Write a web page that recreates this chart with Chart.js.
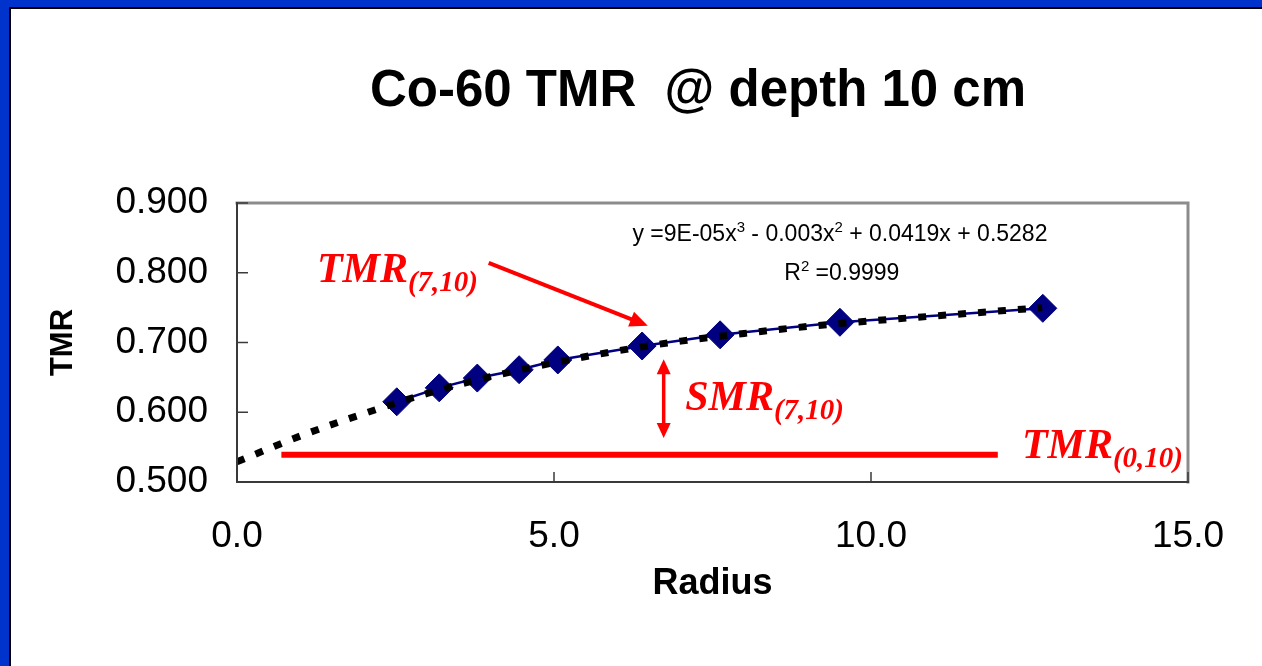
<!DOCTYPE html>
<html>
<head>
<meta charset="utf-8">
<title>Co-60 TMR @ depth 10 cm</title>
<script src="https://cdn.jsdelivr.net/npm/chart.js@4.4.0/dist/chart.umd.min.js"></script>
<style>
    html, body { margin: 0; padding: 0; background: #fff; }
    #wrap { position: relative; width: 1262px; height: 666px; overflow: hidden; background: #fff; }
    #chart { position: absolute; left: 0; top: 0; }
    .bar { position: absolute; }
</style>
</head>
<body>
<div id="wrap">
    <canvas id="chart" width="1262" height="666"></canvas>
    <!-- slide frame -->
    <div class="bar" style="left:0;top:0;width:1262px;height:7px;background:#0033CC"></div>
    <div class="bar" style="left:0;top:0;width:9px;height:666px;background:#0033CC"></div>
    <div class="bar" style="left:9px;top:7px;width:1253px;height:2px;background:#000"></div>
    <div class="bar" style="left:9px;top:7px;width:2px;height:659px;background:#000"></div>
</div>
<script>
// measured points
const radius = [2.52, 3.19, 3.79, 4.45, 5.06, 6.39, 7.62, 9.51, 12.71];
const tmr = [0.615, 0.635, 0.649, 0.661, 0.675, 0.695, 0.711, 0.729, 0.749];

// polynomial trendline
const fitRadius = [0, 1, 2, 3, 4, 5, 6, 7, 8, 9, 10, 11, 12, 12.7];
const fitTmr = [0.529, 0.566, 0.598, 0.627, 0.651, 0.671, 0.688, 0.702, 0.713, 0.723, 0.731, 0.738, 0.745, 0.750];

// TMR(0,10) reference level
const zeroRadius = [0.7, 12.0];
const zeroTmr = [0.539, 0.539];

const xTicks = [0, 5, 10, 15];
const yTicks = [0.5, 0.6, 0.7, 0.8, 0.9];

const SANS = '"Liberation Sans", Arial, sans-serif';
const SERIF = '"Liberation Serif", "Times New Roman", serif';
const RED = '#FF0000';

// annotation anchors, in data units
const notes = {
    tmr7: { x: 1.26, y: 0.787, main: 'TMR', sub: '(7,10)' },
    smr7: { x: 7.07, y: 0.603, main: 'SMR', sub: '(7,10)' },
    tmr0: { x: 12.38, y: 0.534, main: 'TMR', sub: '(0,10)' }
};
const pointerArrow = { x1: 3.97, y1: 0.814, x2: 6.48, y2: 0.724 };
const smrArrow = { x: 6.73, y1: 0.676, y2: 0.563 };
const equation = { x: 9.51, y: 0.857 };
const rSquared = { x: 9.54, y: 0.801 };

function toPoints(xs, ys) {
    return xs.map((x, i) => ({ x: x, y: ys[i] }));
}

function arrowHead(ctx, x1, y1, x2, y2, len, half) {
    const a = Math.atan2(y2 - y1, x2 - x1);
    ctx.beginPath();
    ctx.moveTo(x2, y2);
    ctx.lineTo(x2 - len * Math.cos(a) + half * Math.sin(a), y2 - len * Math.sin(a) - half * Math.cos(a));
    ctx.lineTo(x2 - len * Math.cos(a) - half * Math.sin(a), y2 - len * Math.sin(a) + half * Math.cos(a));
    ctx.closePath();
    ctx.fill();
}

function drawRuns(ctx, runs, cx, y) {
    // runs: [text, size, raise]
    let total = 0;
    runs.forEach(r => {
        ctx.font = r[1] + 'px ' + SANS;
        total += ctx.measureText(r[0]).width;
    });
    let x = cx - total / 2;
    runs.forEach(r => {
        ctx.font = r[1] + 'px ' + SANS;
        ctx.fillText(r[0], x, y - r[2]);
        x += ctx.measureText(r[0]).width;
    });
}

function drawLabel(ctx, x, y, main, sub) {
    ctx.font = 'italic bold 42px ' + SERIF;
    ctx.fillText(main, x, y);
    const w = ctx.measureText(main).width;
    ctx.font = 'italic bold 29px ' + SERIF;
    ctx.fillText(sub, x + w, y + 9);
}

const overlay = {
    id: 'overlay',
    afterDraw(chart) {
        const ctx = chart.ctx;
        const xs = chart.scales.x, ys = chart.scales.y;
        const area = chart.chartArea;
        const px = v => xs.getPixelForValue(v);
        const py = v => ys.getPixelForValue(v);

        ctx.save();

        // plot frame
        ctx.lineCap = 'square';
        ctx.strokeStyle = '#8c8c8c';
        ctx.lineWidth = 3;
        ctx.beginPath();
        ctx.moveTo(area.left, area.top);
        ctx.lineTo(area.right, area.top);
        ctx.lineTo(area.right, area.bottom);
        ctx.stroke();
        ctx.strokeStyle = '#3a3a3a';
        ctx.lineWidth = 2;
        ctx.beginPath();
        ctx.moveTo(area.left, area.top);
        ctx.lineTo(area.left, area.bottom);
        ctx.lineTo(area.right, area.bottom);
        ctx.stroke();

        // inward tick marks
        ctx.lineWidth = 1.5;
        ctx.lineCap = 'butt';
        yTicks.forEach(v => {
            ctx.beginPath();
            ctx.moveTo(area.left, py(v));
            ctx.lineTo(area.left + 11, py(v));
            ctx.stroke();
        });
        xTicks.forEach(v => {
            ctx.beginPath();
            ctx.moveTo(px(v), area.bottom);
            ctx.lineTo(px(v), area.bottom - 10);
            ctx.stroke();
        });

        // title
        ctx.fillStyle = '#000';
        ctx.textAlign = 'center';
        ctx.textBaseline = 'alphabetic';
        ctx.font = 'bold 51px ' + SANS;
        ctx.fillText('Co-60 TMR  @ depth 10 cm', 698, 106);

        // trendline equation
        ctx.textAlign = 'left';
        drawRuns(ctx, [
            ['y =9E-05x', 23, 0], ['3', 15, 9], [' - 0.003x', 23, 0], ['2', 15, 9],
            [' + 0.0419x + 0.5282', 23, 0]
        ], px(equation.x), py(equation.y) + 8);
        drawRuns(ctx, [['R', 23, 0], ['2', 15, 9], [' =0.9999', 23, 0]], px(rSquared.x), py(rSquared.y) + 8);

        // red annotations
        ctx.fillStyle = RED;
        ctx.strokeStyle = RED;
        Object.values(notes).forEach(n => drawLabel(ctx, px(n.x), py(n.y), n.main, n.sub));

        ctx.lineWidth = 4;
        const ax1 = px(pointerArrow.x1), ay1 = py(pointerArrow.y1);
        const ax2 = px(pointerArrow.x2), ay2 = py(pointerArrow.y2);
        const a = Math.atan2(ay2 - ay1, ax2 - ax1);
        ctx.beginPath();
        ctx.moveTo(ax1, ay1);
        ctx.lineTo(ax2 - 14 * Math.cos(a), ay2 - 14 * Math.sin(a));
        ctx.stroke();
        arrowHead(ctx, ax1, ay1, ax2, ay2, 18, 8);

        const sx = px(smrArrow.x), sy1 = py(smrArrow.y1), sy2 = py(smrArrow.y2);
        ctx.lineWidth = 3.5;
        ctx.beginPath();
        ctx.moveTo(sx, sy1 + 12);
        ctx.lineTo(sx, sy2 - 12);
        ctx.stroke();
        arrowHead(ctx, sx, sy2, sx, sy1, 15, 7);
        arrowHead(ctx, sx, sy1, sx, sy2, 15, 7);

        ctx.restore();
    }
};

new Chart(document.getElementById('chart'), {
    type: 'scatter',
    data: {
        datasets: [
            {
                label: 'Poly. (TMR)',
                data: toPoints(fitRadius, fitTmr),
                showLine: true,
                borderColor: '#000',
                borderWidth: 7,
                borderDash: [8, 12],
                borderCapStyle: 'butt',
                cubicInterpolationMode: 'monotone',
                pointRadius: 0
            },
            {
                label: 'TMR',
                data: toPoints(radius, tmr),
                showLine: true,
                borderColor: '#000080',
                borderWidth: 2.5,
                pointStyle: 'rectRot',
                pointRadius: 14,
                pointBackgroundColor: '#000080',
                pointBorderColor: '#000080',
                pointBorderWidth: 1
            },
            {
                label: 'TMR(0,10)',
                data: toPoints(zeroRadius, zeroTmr),
                showLine: true,
                borderColor: RED,
                borderWidth: 6,
                pointRadius: 0
            }
        ]
    },
    options: {
        responsive: false,
        animation: false,
        devicePixelRatio: 1,
        layout: { padding: { left: 0, top: 203, right: 74, bottom: 0 } },
        plugins: {
            legend: { display: false },
            tooltip: { enabled: false }
        },
        scales: {
            x: {
                type: 'linear',
                min: 0,
                max: 15,
                afterBuildTicks: (scale) => { scale.ticks = xTicks.map(v => ({ value: v })); },
                afterFit: (scale) => { scale.height = 184; },
                grid: { display: false },
                border: { display: false },
                ticks: {
                    padding: 25,
                    color: '#000',
                    maxRotation: 0,
                    autoSkip: false,
                    font: { family: SANS, size: 37 },
                    callback: (v) => Number(v).toFixed(1)
                },
                title: {
                    display: true,
                    text: 'Radius',
                    color: '#000',
                    font: { family: SANS, size: 36, weight: 'bold' },
                    padding: { top: 0, bottom: 60 }
                }
            },
            y: {
                type: 'linear',
                min: 0.5,
                max: 0.9,
                afterBuildTicks: (scale) => { scale.ticks = yTicks.map(v => ({ value: v })); },
                afterFit: (scale) => { scale.width = 237; },
                grid: { display: false },
                border: { display: false },
                ticks: {
                    padding: 21,
                    color: '#000',
                    autoSkip: false,
                    font: { family: SANS, size: 37 },
                    callback: (v) => Number(v).toFixed(3)
                },
                title: {
                    display: true,
                    text: 'TMR',
                    color: '#000',
                    font: { family: SANS, size: 31, weight: 'bold' },
                    padding: { top: 45, bottom: 0 }
                }
            }
        }
    },
    plugins: [overlay]
});
</script>
</body>
</html>
